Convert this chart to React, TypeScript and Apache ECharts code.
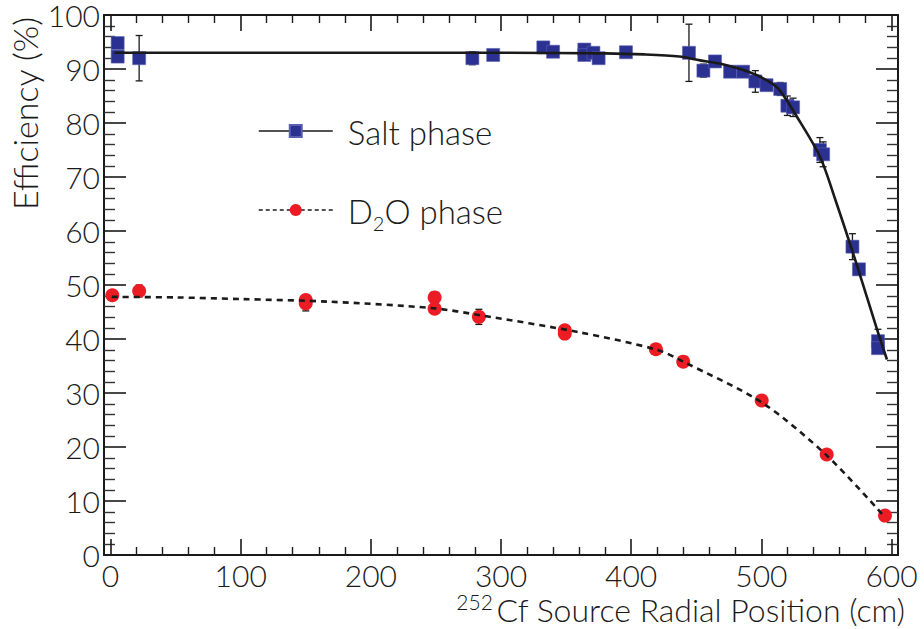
import React, { useEffect, useRef } from 'react';
import * as echarts from 'echarts';

// Salt phase data points (x: cm, y: %, symmetric error)
const saltX = [5.5, 5.5, 22, 278, 294, 332.5, 340, 364, 364, 371, 375, 396, 444.4, 455.5, 464.4, 476, 486, 495.4, 504, 514.5, 520, 524.4, 545, 547.5, 570, 575, 589.6, 589.6];
const saltY = [94.8, 92.3, 92.0, 92.0, 92.6, 94.0, 93.2, 93.6, 92.6, 93.0, 92.0, 93.1, 93.0, 89.7, 91.4, 89.5, 89.5, 87.7, 87.0, 86.3, 83.2, 82.9, 75.0, 74.2, 57.1, 52.9, 39.6, 38.3];
const saltErr = [0, 0, 4.2, 1.2, 0.5, 0.5, 0.4, 0.5, 0.5, 0.5, 0.5, 0.4, 5.3, 1.2, 0.4, 0.3, 0.4, 2.0, 0.5, 1.2, 1.8, 1.7, 2.3, 2.3, 2.4, 0.5, 2.2, 0.5];

// D2O phase data points
const d2oX = [1.4, 22, 150, 150, 249, 249, 283, 349, 349, 419, 440, 500.3, 550.2, 595];
const d2oY = [48.1, 48.9, 47.2, 46.6, 47.7, 45.6, 44.1, 41.6, 41.0, 38.1, 35.8, 28.6, 18.6, 7.3];
const d2oErr = [0, 1.1, 1.0, 1.4, 0.6, 0.8, 1.4, 0.8, 1.0, 0.3, 0.3, 0.3, 0.3, 0.3];

// Fit curves
const saltFitX = [3, 100, 200, 300, 380, 410, 437, 453, 468, 491, 505, 514, 527, 545, 557, 573, 589, 596.5];
const saltFitY = [93.0, 93.0, 93.0, 93.0, 92.9, 92.7, 92.3, 91.6, 91.0, 89.4, 87.8, 86.1, 81.3, 73.8, 65.7, 54.0, 41.7, 36.2];
const d2oFitX = [1, 50, 100, 169, 248, 284, 359, 420, 440, 500, 550, 595];
const d2oFitY = [47.8, 47.7, 47.4, 46.9, 45.7, 44.4, 41.3, 38.0, 35.8, 28.3, 18.5, 7.0];

// Axis ticks
const xMajorTicks = [0, 100, 200, 300, 400, 500, 600];
const xMinorTicks = [20, 40, 60, 80, 120, 140, 160, 180, 220, 240, 260, 280, 320, 340, 360, 380, 420, 440, 460, 480, 520, 540, 560, 580];

const FONT = 'Lato, "DejaVu Sans", sans-serif';
const WEIGHT = 300;
const INK = '#1a1a1a';

const zip = (xs: number[], ys: number[], es?: number[]) =>
  xs.map((x, i) => (es ? [x, ys[i], es[i]] : [x, ys[i]]));

const errorRender = (params: any, api: any) => {
  const x = api.value(0);
  const y = api.value(1);
  const e = api.value(2);
  if (!e) return null;
  const top = api.coord([x, y + e]);
  const bot = api.coord([x, y - e]);
  const cw = 3.5;
  const style = { stroke: INK, lineWidth: 1.3 };
  return {
    type: 'group',
    children: [
      { type: 'line', shape: { x1: top[0], y1: top[1], x2: bot[0], y2: bot[1] }, style },
      { type: 'line', shape: { x1: top[0] - cw, y1: top[1], x2: top[0] + cw, y2: top[1] }, style },
      { type: 'line', shape: { x1: bot[0] - cw, y1: bot[1], x2: bot[0] + cw, y2: bot[1] }, style },
    ],
  };
};

export default function App() {
  const ref = useRef<HTMLDivElement>(null);

  useEffect(() => {
    if (!ref.current) return;
    const chart = echarts.init(ref.current, undefined, { renderer: 'svg' });

    const xBase = {
      type: 'value',
      min: -5,
      max: 605,
      splitLine: { show: false },
      gridIndex: 0,
    };
    const yBase = {
      type: 'value',
      min: 0,
      max: 100,
      interval: 10,
      splitLine: { show: false },
      gridIndex: 0,
    };

    const option: any = {
      animation: false,
      backgroundColor: '#ffffff',
      grid: { left: 104, right: 26, top: 15, bottom: 74, containLabel: false, outerBoundsMode: 'none' },
      xAxis: [
        {
          ...xBase,
          position: 'bottom',
          axisLine: { show: true, onZero: false, lineStyle: { color: INK, width: 2 } },
          axisTick: { show: true, inside: true, length: 16, customValues: xMajorTicks, lineStyle: { color: INK, width: 1.6 } },
          axisLabel: { show: true, customValues: xMajorTicks, margin: 6, fontSize: 30, lineHeight: 28, color: INK, fontFamily: FONT, fontWeight: WEIGHT },
        },
        {
          ...xBase,
          position: 'bottom',
          axisLine: { show: false, onZero: false },
          axisTick: { show: true, inside: true, length: 8, customValues: xMinorTicks, lineStyle: { color: INK, width: 1.4 } },
          axisLabel: { show: false },
        },
        {
          ...xBase,
          position: 'top',
          axisLine: { show: true, onZero: false, lineStyle: { color: INK, width: 2 } },
          axisTick: { show: true, inside: true, length: 16, customValues: xMajorTicks, lineStyle: { color: INK, width: 1.6 } },
          axisLabel: { show: false },
        },
        {
          ...xBase,
          position: 'top',
          axisLine: { show: false, onZero: false },
          axisTick: { show: true, inside: true, length: 8, customValues: xMinorTicks, lineStyle: { color: INK, width: 1.4 } },
          axisLabel: { show: false },
        },
      ],
      yAxis: [
        {
          ...yBase,
          position: 'left',
          axisLine: { show: true, onZero: false, lineStyle: { color: INK, width: 2 } },
          axisTick: { show: true, inside: true, length: 22, lineStyle: { color: INK, width: 1.6 } },
          minorTick: { show: true, splitNumber: 5, length: 11, lineStyle: { color: '#333', width: 1.4 } },
          axisLabel: { show: true, margin: 4, fontSize: 30, lineHeight: 26, color: INK, fontFamily: FONT, fontWeight: WEIGHT },
        },
        {
          ...yBase,
          position: 'right',
          axisLine: { show: true, onZero: false, lineStyle: { color: INK, width: 2 } },
          axisTick: { show: true, inside: true, length: 22, lineStyle: { color: INK, width: 1.6 } },
          minorTick: { show: true, splitNumber: 5, length: 11, lineStyle: { color: '#333', width: 1.4 } },
          axisLabel: { show: false },
        },
      ],
      legend: {
        orient: 'vertical',
        left: 253,
        top: 110,
        itemWidth: 74,
        itemHeight: 15,
        itemGap: 46,
        selectedMode: false,
        data: [
          { name: 'Salt phase', lineStyle: { color: INK, width: 1.5, type: 'solid', opacity: 1 } },
          { name: 'D2O phase', lineStyle: { color: INK, width: 1.5, type: [4, 3], opacity: 1 } },
        ],
        formatter: (name: string) =>
          name === 'Salt phase' ? '{a|Salt phase}' : '{a|D}{s|2}{b|O phase}',
        textStyle: {
          fontFamily: FONT,
          fontWeight: WEIGHT,
          color: INK,
          rich: {
            a: { fontSize: 33, fontFamily: FONT, fontWeight: WEIGHT, color: INK, lineHeight: 32, verticalAlign: 'top', padding: [0, 0, 0, 10] },
            b: { fontSize: 33, fontFamily: FONT, fontWeight: WEIGHT, color: INK, lineHeight: 32, verticalAlign: 'top' },
            s: { fontSize: 20, fontFamily: FONT, fontWeight: WEIGHT, color: INK, lineHeight: 20, verticalAlign: 'top', padding: [19, 0, 0, 0] },
          },
        },
      },
      graphic: [
        {
          type: 'text',
          x: 24,
          y: 17,
          rotation: Math.PI / 2,
          style: {
            text: 'Efficiency (%)',
            align: 'right',
            verticalAlign: 'middle',
            fontSize: 34,
            fontFamily: FONT,
            fontWeight: WEIGHT,
            fill: INK,
          },
        },
        {
          type: 'text',
          x: 905,
          y: 591,
          style: {
            text: '{sup|252}{m|Cf Source Radial Position (cm)}',
            align: 'right',
            verticalAlign: 'top',
            fontFamily: FONT,
            fontWeight: WEIGHT,
            fill: INK,
            rich: {
              sup: { fontSize: 21, fontFamily: FONT, fontWeight: WEIGHT, fill: INK, lineHeight: 20, verticalAlign: 'top', padding: [0, 3, 0, 0] },
              m: { fontSize: 32, fontFamily: FONT, fontWeight: WEIGHT, fill: INK, lineHeight: 30, verticalAlign: 'top', padding: [2, 0, 0, 0] },
            },
          },
        },
      ],
      series: [
        {
          type: 'custom',
          name: 'salt-err',
          xAxisIndex: 0,
          yAxisIndex: 0,
          renderItem: errorRender,
          data: zip(saltX, saltY, saltErr),
          z: 2,
          silent: true,
        },
        {
          type: 'custom',
          name: 'd2o-err',
          xAxisIndex: 0,
          yAxisIndex: 0,
          renderItem: errorRender,
          data: zip(d2oX, d2oY, d2oErr),
          z: 2,
          silent: true,
        },
        {
          type: 'line',
          name: 'Salt phase',
          xAxisIndex: 0,
          yAxisIndex: 0,
          data: zip(saltX, saltY),
          symbol: 'rect',
          symbolSize: 13,
          showAllSymbol: true,
          lineStyle: { width: 0, opacity: 0 },
          itemStyle: { color: '#2b3190', borderColor: '#5a5fb0', borderWidth: 0.6 },
          z: 3,
        },
        {
          type: 'line',
          name: 'D2O phase',
          xAxisIndex: 0,
          yAxisIndex: 0,
          data: zip(d2oX, d2oY),
          symbol: 'circle',
          symbolSize: 14,
          showAllSymbol: true,
          lineStyle: { width: 0, opacity: 0 },
          itemStyle: { color: '#ec1c24' },
          z: 3,
        },
        {
          type: 'line',
          name: 'salt-fit',
          xAxisIndex: 0,
          yAxisIndex: 0,
          data: zip(saltFitX, saltFitY),
          symbol: 'none',
          smooth: 0.3,
          lineStyle: { color: INK, width: 2.6 },
          z: 4,
          silent: true,
        },
        {
          type: 'line',
          name: 'd2o-fit',
          xAxisIndex: 0,
          yAxisIndex: 0,
          data: zip(d2oFitX, d2oFitY),
          symbol: 'none',
          smooth: 0.3,
          lineStyle: { color: INK, width: 2.6, type: [6, 5] },
          z: 4,
          silent: true,
        },
      ],
    };

    chart.setOption(option);
    return () => {
      chart.dispose();
    };
  }, []);

  return (
    <div
      ref={ref}
      style={{ position: 'fixed', left: 0, top: 0, width: 924, height: 629, background: '#fff' }}
    />
  );
}
